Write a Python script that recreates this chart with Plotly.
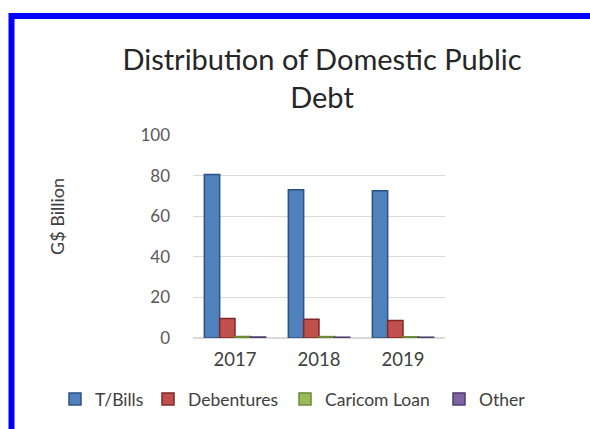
import plotly.graph_objects as go

years = ["2017", "2018", "2019"]
series_names = ["T/Bills", "Debentures", "Caricom Loan", "Other"]
t_bills = [80.5, 73.0, 72.5]
debentures = [9.6, 9.2, 8.6]
caricom_loan = [0.8, 0.7, 0.6]
other = [0.5, 0.4, 0.4]

colors = ["#4F81BD", "#C0504D", "#9BBB59", "#8064A2"]
edge_colors = ["#2C5282", "#7F2A28", "#6A8A35", "#4E3B6E"]

W, H = 590, 429
L, R, T, B = 193, 445, 135, 338  # plot area pixel box

# legend text start positions (px) in the reference
legend_text_x = [95, 188, 325, 479]
legend_ids = ["legend", "legend2", "legend3", "legend4"]

fig = go.Figure()
for name, vals, c, ec, lid in zip(series_names, [t_bills, debentures, caricom_loan, other],
                                  colors, edge_colors, legend_ids):
    fig.add_trace(go.Bar(
        x=years, y=vals, name=name, legend=lid, showlegend=True,
        marker=dict(color=c, line=dict(color=ec, width=1.5)),
    ))

def px_x(p):
    return (p - L) / (R - L)

def px_y(p):
    return (B - p) / (B - T)

legend_layouts = {}
for lid, tx in zip(legend_ids, legend_text_x):
    legend_layouts[lid] = dict(
        xref="container", yref="container",
        x=(tx - 40) / W, xanchor="left",
        y=1 - 399 / H, yanchor="middle",
        font=dict(size=17.5, color="#404040"),
        itemwidth=30, bgcolor="rgba(0,0,0,0)",
    )

fig.update_layout(
    width=W, height=H, showlegend=True,
    margin=dict(l=L, r=W - R, t=T, b=H - B, autoexpand=False),
    paper_bgcolor="white", plot_bgcolor="white",
    barmode="group", bargap=0.27, bargroupgap=0,
    font=dict(family="Lato, Open Sans, sans-serif", color="#404040"),
    title=dict(
        text="Distribution of Domestic Public<br>Debt",
        x=322 / W, xref="container", xanchor="center",
        y=1 - 70 / H, yref="container", yanchor="middle",
        font=dict(size=29, color="#262626"),
    ),
    xaxis=dict(
        showgrid=False, showline=False, ticks="", automargin=False,
        tickfont=dict(size=18.5, color="#404040"),
        ticklabelstandoff=8,
    ),
    yaxis=dict(
        range=[0, 100], dtick=20, showgrid=True, gridcolor="#D9D9D9",
        gridwidth=1, zeroline=True, zerolinecolor="#D9D9D9", showline=False,
        ticks="", tickfont=dict(size=17, color="#595959"), automargin=False,
        ticklabelstandoff=22,
    ),
    annotations=[dict(
        text="G$ Billion", textangle=-90, showarrow=False,
        xref="paper", yref="paper", x=px_x(57), y=px_y(217),
        xanchor="center", yanchor="middle",
        font=dict(size=18, color="#404040"),
    )],
    shapes=[dict(
        type="rect", xref="paper", yref="paper",
        x0=px_x(11.5), x1=px_x(610), y0=px_y(450), y1=px_y(16),
        line=dict(color="#0000FF", width=6), fillcolor="rgba(0,0,0,0)",
        layer="above",
    )],
    **legend_layouts,
)

fig.write_html("out.html")
